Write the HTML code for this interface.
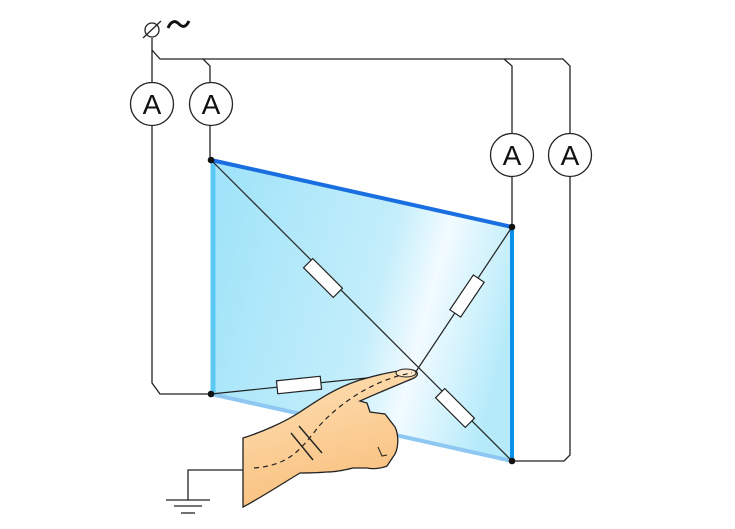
<!DOCTYPE html>
<html><head><meta charset="utf-8"><style>body{margin:0;background:#fff}svg{display:block}</style></head><body>
<svg width="735" height="529" viewBox="0 0 735 529" xmlns="http://www.w3.org/2000/svg">
<defs>
<linearGradient id="g" x1="211" y1="250" x2="512" y2="330" gradientUnits="userSpaceOnUse">
<stop offset="0" stop-color="#a2e4f9"/><stop offset="0.55" stop-color="#c4eefb"/><stop offset="0.72" stop-color="#f2fbff"/><stop offset="1" stop-color="#b4eafa"/></linearGradient>
<linearGradient id="h" x1="300" y1="380" x2="330" y2="500" gradientUnits="userSpaceOnUse">
<stop offset="0" stop-color="#fddcae"/><stop offset="1" stop-color="#f9c07e"/></linearGradient>
</defs>
<g fill="none" stroke="#222" stroke-width="1.3">
<path d="M152 38 V50 L160 59 H563 L570 66 V455 L564 461 H512"/>
<path d="M203 59 L210 66 V160"/>
<path d="M504 59 L512 66 V227"/>
<path d="M152 50 V383 L160 394 H211"/>
</g>
<polygon points="211,160 512,227 512,461 211,394" fill="url(#g)"/>
<line x1="213" y1="160" x2="213" y2="394" stroke="#5cc8f4" stroke-width="5"/>
<line x1="211" y1="160" x2="512" y2="227" stroke="#1a6fe0" stroke-width="4"/>
<line x1="512" y1="227" x2="512" y2="461" stroke="#0a90e8" stroke-width="4"/>
<line x1="211" y1="394" x2="512" y2="461" stroke="#8ec8f2" stroke-width="4"/>
<g stroke="#222" stroke-width="1.2">
<line x1="211" y1="160" x2="512" y2="461"/>
<line x1="512" y1="227" x2="415" y2="373"/>
<line x1="211" y1="394" x2="415" y2="373"/>
</g>
<g fill="#fff" stroke="#222" stroke-width="1.2">
<rect x="-21" y="-6.5" width="42" height="13" transform="translate(323 278) rotate(45)"/>
<rect x="-21" y="-6.5" width="42" height="13" transform="translate(467 296) rotate(-56)"/>
<rect x="-21" y="-6.5" width="42" height="13" transform="translate(455 408) rotate(45)"/>
<rect x="-22" y="-6.5" width="44" height="13" transform="translate(299 385) rotate(-6)"/>
</g>
<path d="M243 438 C262 432 285 422 300 412 C318 400 335 388 360 380 C380 374 395 371 408 370 C418 369 420 375 414 378 C400 384 380 392 360 401 L367 403 L370 412 L385 414 L395 427 C399 435 399 450 393 457 L387 466 C380 469 372 469 367 468 L353 468 C345 470 335 472 327 472 C315 473 305 473 300 473 C280 485 262 497 243 507 Z" fill="url(#h)" stroke="#222" stroke-width="1.3"/>
<path d="M378 447 L382 456 L387 455" fill="none" stroke="#222" stroke-width="1"/>
<ellipse cx="406" cy="373" rx="10" ry="4" fill="#fde7c8" stroke="#222" stroke-width="1"/>
<path d="M254 468 C290 465 300 450 320 425 C345 398 380 378 412 373" fill="none" stroke="#222" stroke-width="1.2" stroke-dasharray="5,4"/>
<g stroke="#222" stroke-width="1.4"><line x1="291" y1="433" x2="313" y2="460"/><line x1="299" y1="426" x2="322" y2="453"/></g>
<g stroke="#222" stroke-width="1.3" fill="none"><path d="M243 470 H188 V500"/><line x1="166" y1="500" x2="210" y2="500"/><line x1="174" y1="506" x2="202" y2="506"/><line x1="181" y1="513" x2="195" y2="513"/></g>
<g fill="#111"><circle cx="211" cy="160" r="3.3"/><circle cx="512" cy="227" r="3.3"/><circle cx="512" cy="461" r="3.3"/><circle cx="211" cy="394" r="3.3"/></g>
<g fill="#fff" stroke="#222" stroke-width="1.3"><circle cx="152" cy="104" r="21.5"/><circle cx="211" cy="104" r="21.5"/><circle cx="512" cy="155" r="21.5"/><circle cx="570" cy="155" r="21.5"/></g>
<g font-family="Liberation Sans, sans-serif" font-size="28" text-anchor="middle" fill="#111">
<text x="152" y="114">A</text><text x="211" y="114">A</text><text x="512" y="165">A</text><text x="570" y="165">A</text></g>
<circle cx="152" cy="30" r="7" fill="none" stroke="#222" stroke-width="1.3"/>
<line x1="143" y1="38" x2="161" y2="21" stroke="#222" stroke-width="1.3"/>
<path d="M168 28 C171 21 175 20 179 24 C183 28 186 27 189 21" fill="none" stroke="#111" stroke-width="3"/>
</svg>
</body></html>
